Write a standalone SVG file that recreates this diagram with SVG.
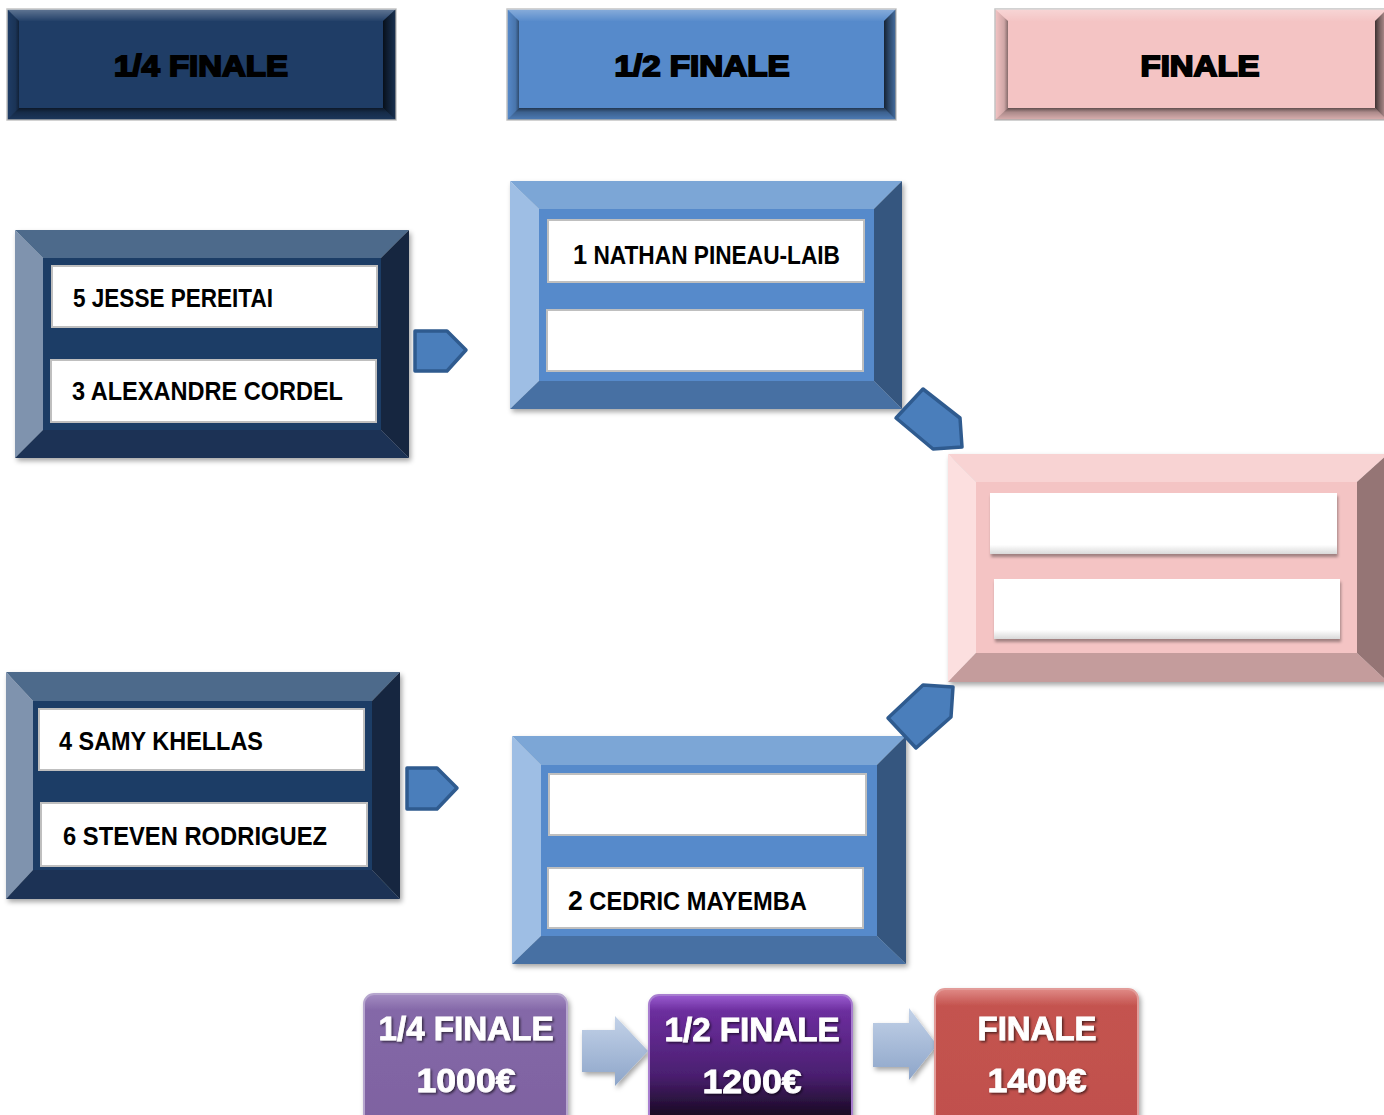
<svg xmlns="http://www.w3.org/2000/svg" width="1384" height="1115" viewBox="0 0 1384 1115">
<defs>
<style>
.name{font-family:"Liberation Sans",Arial,sans-serif;font-weight:bold;font-size:25px;fill:#000}
.big{font-size:28px}
.head{font-family:"Liberation Sans",Arial,sans-serif;font-weight:bold;font-size:29px;fill:#000;stroke:#000;stroke-width:1.8px;text-anchor:middle}
.prize{font-family:"Liberation Sans",Arial,sans-serif;font-weight:bold;font-size:33px;fill:#fff;stroke:#fff;stroke-width:0.8px;text-anchor:middle;filter:url(#tsh)}
.slot{fill:#fff;stroke:#BFBFBF;stroke-width:2}
.fslot{fill:url(#fslotg);filter:url(#sh2)}
.conn{fill:#4A7EBB;stroke:#2F5B8F;stroke-width:3.5;stroke-linejoin:round}
.blk{fill:url(#blkg);filter:url(#sh)}
.hb{stroke:#C4C4C4;stroke-width:1.5}
.bt{fill:url(#gTop)}
.bl{fill:url(#gLeft)}
.br{fill:url(#gRight)}
.bb{fill:url(#gBottom)}
</style>
<filter id="sh" x="-10%" y="-10%" width="130%" height="130%">
<feDropShadow dx="2" dy="3" stdDeviation="2.5" flood-color="#000" flood-opacity="0.35"/>
</filter>
<filter id="sh2" x="-10%" y="-20%" width="120%" height="150%">
<feDropShadow dx="1" dy="3" stdDeviation="1.5" flood-color="#000" flood-opacity="0.35"/>
</filter>
<filter id="tsh" x="-10%" y="-20%" width="120%" height="150%">
<feDropShadow dx="1.5" dy="1.5" stdDeviation="1" flood-color="#000" flood-opacity="0.6"/>
</filter>
<linearGradient id="gTop" x1="0" y1="0" x2="0" y2="1">
<stop offset="0" stop-color="#fff" stop-opacity="0.3"/><stop offset="1" stop-color="#fff" stop-opacity="0.02"/>
</linearGradient>
<linearGradient id="gLeft" x1="0" y1="0" x2="1" y2="0">
<stop offset="0" stop-color="#000" stop-opacity="0"/><stop offset="0.7" stop-color="#000" stop-opacity="0.15"/><stop offset="1" stop-color="#000" stop-opacity="0.45"/>
</linearGradient>
<linearGradient id="gRight" x1="0" y1="0" x2="1" y2="0">
<stop offset="0" stop-color="#000" stop-opacity="0.75"/><stop offset="0.4" stop-color="#000" stop-opacity="0.5"/><stop offset="1" stop-color="#000" stop-opacity="0.2"/>
</linearGradient>
<linearGradient id="gBottom" x1="0" y1="0" x2="0" y2="1">
<stop offset="0" stop-color="#000" stop-opacity="0.6"/><stop offset="0.35" stop-color="#000" stop-opacity="0.3"/><stop offset="1" stop-color="#000" stop-opacity="0.1"/>
</linearGradient>
<linearGradient id="fslotg" x1="0" y1="0" x2="0" y2="1">
<stop offset="0" stop-color="#ffffff"/><stop offset="0.85" stop-color="#ffffff"/><stop offset="1" stop-color="#d9d9d9"/>
</linearGradient>
<linearGradient id="blkg" x1="0" y1="0" x2="0" y2="1">
<stop offset="0" stop-color="#C3D2E8"/><stop offset="1" stop-color="#8DA5C9"/>
</linearGradient>
<linearGradient id="p1g" x1="0" y1="0" x2="0" y2="1">
<stop offset="0" stop-color="#A48DC2"/><stop offset="0.12" stop-color="#8468A8"/><stop offset="1" stop-color="#7E62A0"/>
</linearGradient>
<linearGradient id="p2g" x1="0" y1="0" x2="0" y2="1">
<stop offset="0" stop-color="#9A5CD0"/><stop offset="0.12" stop-color="#6C2E9E"/><stop offset="0.6" stop-color="#4A1F70"/><stop offset="1" stop-color="#080309"/>
</linearGradient>
<linearGradient id="p3g" x1="0" y1="0" x2="0" y2="1">
<stop offset="0" stop-color="#E08A86"/><stop offset="0.12" stop-color="#C4534F"/><stop offset="1" stop-color="#C0504D"/>
</linearGradient>
</defs>
<rect width="1384" height="1115" fill="#fff"/>

<!-- Headers -->
<g id="h-quarter">
<rect class="hb" x="7" y="9" width="389" height="111" fill="#1F3D66"/>
<polygon class="bt" points="7,9 396,9 383,21 19,21"/>
<polygon class="bl" points="7,9 19,21 19,108 7,120"/>
<polygon class="br" points="396,9 396,120 383,108 383,21"/>
<polygon class="bb" points="7,120 19,108 383,108 396,120"/>
<text class="head" x="201" y="76" textLength="174" lengthAdjust="spacingAndGlyphs">1/4 FINALE</text>
</g>
<g id="h-semi">
<rect class="hb" x="507" y="9" width="389" height="111" fill="#568ACB"/>
<polygon class="bt" points="507,9 896,9 884,21 519,21"/>
<polygon class="bl" points="507,9 519,21 519,108 507,120"/>
<polygon class="br" points="896,9 896,120 884,108 884,21"/>
<polygon class="bb" points="507,120 519,108 884,108 896,120"/>
<text class="head" x="702" y="76" textLength="175" lengthAdjust="spacingAndGlyphs">1/2 FINALE</text>
</g>
<g id="h-final">
<rect class="hb" x="995" y="9" width="392" height="111" fill="#F4C4C4"/>
<polygon class="bt" points="995,9 1387,9 1375,21 1008,21"/>
<polygon class="bl" points="995,9 1008,21 1008,108 995,120"/>
<polygon class="br" points="1387,9 1387,120 1375,108 1375,21"/>
<polygon class="bb" points="995,120 1008,108 1375,108 1387,120"/>
<text class="head" x="1200" y="76" textLength="119" lengthAdjust="spacingAndGlyphs">FINALE</text>
</g>

<!-- Quarter-final 1 -->
<g id="qf1">
<g filter="url(#sh)">
<polygon points="15,230 409,230 381,258 43,258" fill="#4E6A8B"/>
<polygon points="15,230 43,258 43,430 15,458" fill="#7F93AE"/>
<polygon points="409,230 409,458 381,430 381,258" fill="#172840"/>
<polygon points="15,458 43,430 381,430 409,458" fill="#1B3354"/>
<rect x="43" y="258" width="338" height="172" fill="#1F3D66"/>
</g>
<rect class="slot" x="52" y="266" width="325" height="61"/>
<rect class="slot" x="51" y="360" width="325" height="62"/>
<text class="name" x="73" y="307" textLength="200" lengthAdjust="spacingAndGlyphs">5 JESSE PEREITAI</text>
<text class="name" x="72" y="400" textLength="271" lengthAdjust="spacingAndGlyphs">3 ALEXANDRE CORDEL</text>
</g>

<!-- Quarter-final 2 -->
<g id="qf2">
<g filter="url(#sh)">
<polygon points="6,672 400,672 372,701 33,701" fill="#4E6A8B"/>
<polygon points="6,672 33,701 33,870 6,899" fill="#7F93AE"/>
<polygon points="400,672 400,899 372,870 372,701" fill="#172840"/>
<polygon points="6,899 33,870 372,870 400,899" fill="#1B3354"/>
<rect x="33" y="701" width="339" height="169" fill="#1F3D66"/>
</g>
<rect class="slot" x="39" y="709" width="325" height="61"/>
<rect class="slot" x="41" y="803" width="326" height="63"/>
<text class="name" x="59" y="750" textLength="204" lengthAdjust="spacingAndGlyphs">4 SAMY KHELLAS</text>
<text class="name" x="63" y="845" textLength="264" lengthAdjust="spacingAndGlyphs">6 STEVEN RODRIGUEZ</text>
</g>

<!-- Semi-final 1 -->
<g id="sf1">
<g filter="url(#sh)">
<polygon points="510,181 902,181 874,209 539,209" fill="#7BA6D6"/>
<polygon points="510,181 539,209 539,381 510,409" fill="#9EBEE4"/>
<polygon points="902,181 902,409 874,381 874,209" fill="#34577F"/>
<polygon points="510,409 539,381 874,381 902,409" fill="#4670A3"/>
<rect x="539" y="209" width="335" height="172" fill="#568ACB"/>
</g>
<rect class="slot" x="548" y="220" width="316" height="62"/>
<rect class="slot" x="547" y="310" width="316" height="61"/>
<text class="name" x="573" y="264" textLength="267" lengthAdjust="spacingAndGlyphs"><tspan class="big">1</tspan> NATHAN PINEAU-LAIB</text>
</g>

<!-- Semi-final 2 -->
<g id="sf2">
<g filter="url(#sh)">
<polygon points="512,736 906,736 877,765 541,765" fill="#7BA6D6"/>
<polygon points="512,736 541,765 541,936 512,964" fill="#9EBEE4"/>
<polygon points="906,736 906,964 877,936 877,765" fill="#34577F"/>
<polygon points="512,964 541,936 877,936 906,964" fill="#4670A3"/>
<rect x="541" y="765" width="336" height="171" fill="#568ACB"/>
</g>
<rect class="slot" x="549" y="774" width="317" height="61"/>
<rect class="slot" x="548" y="868" width="315" height="60"/>
<text class="name" x="568" y="910" textLength="239" lengthAdjust="spacingAndGlyphs"><tspan class="big">2</tspan> CEDRIC MAYEMBA</text>
</g>

<!-- Final -->
<g id="final">
<g filter="url(#sh)">
<polygon points="948,454 1388,454 1357,482 976,482" fill="#F8D3D3"/>
<polygon points="948,454 976,482 976,653 948,682" fill="#FCDFDF"/>
<polygon points="1388,454 1388,682 1357,653 1357,482" fill="#957575"/>
<polygon points="948,682 976,653 1357,653 1388,682" fill="#C49C9C"/>
<rect x="976" y="482" width="381" height="171" fill="#F4C4C4"/>
</g>
<rect class="fslot" x="990" y="493" width="347" height="61"/>
<rect class="fslot" x="994" y="579" width="346" height="60"/>
</g>

<!-- Connectors -->
<g id="connectors">
<polygon class="conn" points="415,331 447,331 466,350 447,371 415,371"/>
<polygon class="conn" points="407,768 437,768 457,788 437,809 407,809"/>
<polygon class="conn" points="896,418 923,389 960,418 962,447 933,449"/>
<polygon class="conn" points="888,718 923,685 953,687 951,717 916,748"/>
<polygon class="blk" points="582,1030 615,1030 615,1016 648,1051 615,1086 615,1072 582,1072"/>
<polygon class="blk" points="873,1023 909,1023 909,1008 937,1045 909,1080 909,1067 873,1067"/>
</g>

<!-- Prize boxes -->
<g id="prize-quarter">
<rect x="364" y="994" width="203" height="135" rx="10" fill="url(#p1g)" stroke="#B6A6CE" stroke-width="2" filter="url(#sh)"/>
<text class="prize" x="466" y="1040" textLength="175" lengthAdjust="spacingAndGlyphs">1/4 FINALE</text>
<text class="prize" x="466" y="1092" textLength="99" lengthAdjust="spacingAndGlyphs">1000€</text>
</g>
<g id="prize-semi">
<rect x="649" y="995" width="203" height="134" rx="10" fill="url(#p2g)" stroke="#A87ED0" stroke-width="2" filter="url(#sh)"/>
<text class="prize" x="752" y="1041" textLength="175" lengthAdjust="spacingAndGlyphs">1/2 FINALE</text>
<text class="prize" x="752" y="1093" textLength="99" lengthAdjust="spacingAndGlyphs">1200€</text>
</g>
<g id="prize-final">
<rect x="935" y="989" width="203" height="140" rx="10" fill="url(#p3g)" stroke="#E29C99" stroke-width="2" filter="url(#sh)"/>
<text class="prize" x="1037" y="1040" textLength="119" lengthAdjust="spacingAndGlyphs">FINALE</text>
<text class="prize" x="1037" y="1092" textLength="99" lengthAdjust="spacingAndGlyphs">1400€</text>
</g>
</svg>
